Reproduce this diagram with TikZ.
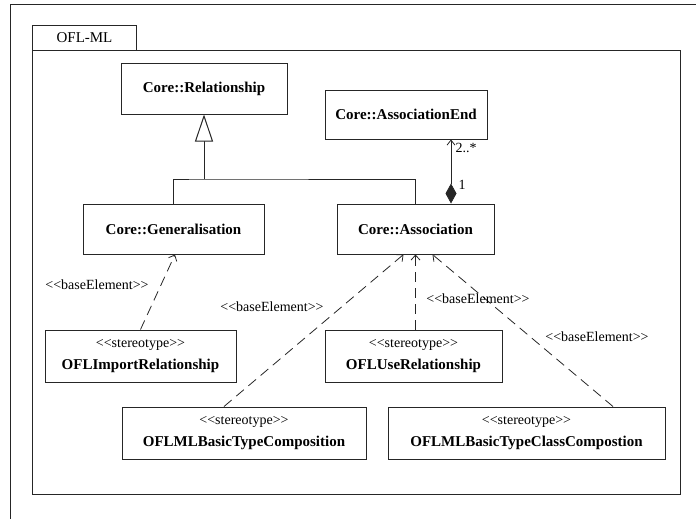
\documentclass[tikz,border=0pt]{standalone}
\usepackage{fontspec}
\setmainfont{Liberation Serif}
\usetikzlibrary{arrows.meta}
\begin{document}
\begin{tikzpicture}[x=1pt,y=-1pt,
  ink/.style={draw=black!85, line width=1pt},
  classbox/.style={ink, inner sep=0pt, minimum height=50pt,
    font=\fontsize{15}{18}\selectfont\bfseries},
  stereobox/.style={ink, inner sep=0pt, minimum height=52pt, align=center,
    font=\fontsize{15}{22}\selectfont},
  lbl/.style={inner sep=0pt, font=\fontsize{14}{16}\selectfont},
  dep/.style={draw=black!85, line width=0.8pt, dash pattern=on 10pt off 6pt,
    -{Straight Barb[length=5pt,width=9pt]}},
  gen/.style={ink, -{Triangle[open,length=27pt,width=18pt,fill=white]}},
  comp/.style={ink, line width=0.8pt,
    {Diamond[length=20pt,width=11pt]}-{Straight Barb[length=5pt,width=8pt]}}
]
\useasboundingbox (0,0) rectangle (696,519);

% outer frame and package
\draw[ink] (10,519) -- (10,5) -- (696,5);
\draw[ink] (32,51) rectangle (680,494);
\node[ink, anchor=south west, minimum width=104pt, minimum height=25pt,
  inner sep=0pt, font=\fontsize{15}{18}\selectfont] (tab) at (32,51) {OFL-ML};

% classes
\node[classbox, minimum width=166pt] (rel) at (204,89) {Core::Relationship};
\node[classbox, minimum width=162pt, minimum height=49pt] (aend) at (406,114.5) {Core::AssociationEnd};
\node[classbox, minimum width=181pt] (genl) at (173.5,229) {Core::Generalisation};
\node[classbox, minimum width=157pt] (assoc) at (415.5,229) {Core::Association};

% stereotypes
\newcommand{\stereoname}[1]{{\fontsize{14}{22}\selectfont <{}<stereotype>{}>}\\{\bfseries #1}}
\node[stereobox, minimum width=191pt] (imp) at (140.5,356) {\stereoname{OFLImportRelationship}};
\node[stereobox, minimum width=177pt] (use) at (413.5,356) {\stereoname{OFLUseRelationship}};
\node[stereobox, minimum width=244pt] (btc) at (244,433) {\stereoname{OFLMLBasicTypeComposition}};
\node[stereobox, minimum width=277pt] (btcc) at (526.5,433) {\stereoname{OFLMLBasicTypeClassCompostion}};

% generalisation
\coordinate (j) at (204,179);
\draw[ink] (genl.north) |- (j) -| (assoc.north);
\draw[gen] (j) -- (rel.south);

% composition
\coordinate (cb) at ([xshift=35.5pt]assoc.north);
\draw[comp] (cb) -- (cb |- aend.south);
\node[lbl] (one) at (462,185) {1};
\node[lbl] (many) at (466,148) {2..*};

% base element dependencies
\draw[dep] (imp.north) -- ([xshift=1.5pt]genl.south);
\draw[dep] ([xshift=-20pt]btc.north) -- ([xshift=-12pt]assoc.south);
\draw[dep] (assoc.south |- use.north) -- (assoc.south);
\draw[dep] ([xshift=86.5pt]btcc.north) -- ([xshift=17pt]assoc.south);

\node[lbl] (b1) at (97,285) {<{}<baseElement>{}>};
\node[lbl] (b2) at (272,307) {<{}<baseElement>{}>};
\node[lbl] (b3) at (478,299) {<{}<baseElement>{}>};
\node[lbl] (b4) at (597,337) {<{}<baseElement>{}>};
\end{tikzpicture}
\end{document}
